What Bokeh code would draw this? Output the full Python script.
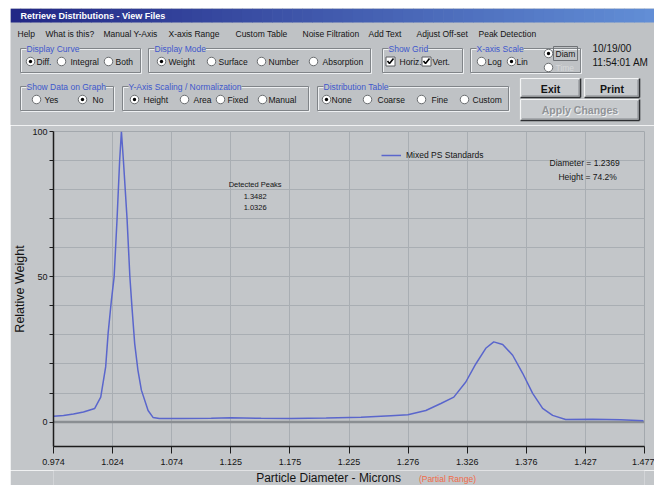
import numpy as np
from bokeh.plotting import figure
from bokeh.models import Range1d, FixedTicker, Span, Label
from bokeh.layouts import column
from bokeh.embed import file_html
from bokeh.resources import INLINE
from bokeh.core.properties import value

# ---------------- chart data ----------------
diameter_um = [0.9740, 0.9825, 0.9910, 0.9995, 1.0091, 1.0142, 1.0184, 1.0205, 1.0233, 1.0256,
               1.0281, 1.0303, 1.0318, 1.0335, 1.0366, 1.0390, 1.0407, 1.0431, 1.0458, 1.0488,
               1.0545, 1.0587, 1.0641, 1.0828, 1.1082, 1.1252, 1.1507, 1.1762, 1.2060, 1.2357,
               1.2612, 1.2756, 1.2909, 1.3037, 1.3147, 1.3249, 1.3334, 1.3419, 1.3487, 1.3563,
               1.3648, 1.3733, 1.3818, 1.3903, 1.3988, 1.4099, 1.4328, 1.4566, 1.4761]
relative_weight = [2.0, 2.3, 2.8, 3.5, 4.7, 8.6, 19.0, 30.6, 42.0, 50.0,
                   70.0, 90.0, 100.0, 90.0, 70.0, 50.0, 40.0, 27.0, 18.0, 11.0,
                   4.0, 1.6, 1.2, 1.2, 1.3, 1.5, 1.3, 1.2, 1.4, 1.7,
                   2.2, 2.5, 4.0, 6.4, 8.6, 13.8, 20.0, 25.4, 27.6, 26.7,
                   23.0, 16.8, 9.9, 4.7, 2.3, 0.9, 1.0, 0.8, 0.5]
series_name = "Mixed PS Standards"
x_tick_labels = ["0.974", "1.024", "1.074", "1.125", "1.175", "1.225",
                 "1.276", "1.326", "1.376", "1.427", "1.477"]
x_min, x_max = 0.974, 1.477
y_major_ticks = [0, 50, 100]
y_minor_ticks = [10, 20, 30, 40, 60, 70, 80, 90]
detected_peaks = ["1.3482", "1.0326"]
cursor_diameter = "1.2369"
cursor_height = "74.2%"
x_title = "Particle Diameter - Microns"
y_title = "Relative Weight"
range_note = "(Partial Range)"

# ---------------- UI texts ----------------
menu_items = ["Help", "What is this?", "Manual Y-Axis", "X-axis Range", "Custom Table",
              "Noise Filtration", "Add Text", "Adjust Off-set", "Peak Detection"]
menu_x = [17, 45, 103, 168, 235, 302, 368, 416, 478]

FONT = "Liberation Sans"
WIN = "#bfc2c5"
PLOT_BG = "#c3c6c9"
GRID = "#a9aeb3"
DARK = "#808488"
INK = "#141414"

# ================= top UI panel (page pixel coordinates) =================
ui = figure(width=644, height=117, x_range=Range1d(10, 654), y_range=Range1d(125, 8),
            x_axis_location=None, y_axis_location=None, toolbar_location=None,
            output_backend="svg", min_border=0)
ui.grid.visible = False
ui.outline_line_color = None
ui.background_fill_color = WIN
ui.border_fill_color = WIN

# title bar gradient
n = 64
xs = np.linspace(10, 654, n + 1)
c0 = np.array([34, 40, 134])
c1 = np.array([98, 142, 214])
cols = ["#%02x%02x%02x" % tuple((c0 + (c1 - c0) * t).astype(int)) for t in np.linspace(0, 1, n)]
ui.quad(left=xs[:-1], right=xs[1:] + 0.6, top=8, bottom=22, fill_color=cols, line_color=None)
ui.text(x=[20], y=[15.5], text=["Retrieve Distributions - View Files"], text_color="white",
        text_font=value(FONT), text_font_style="bold", text_font_size="9px",
        text_baseline="middle")

# menu
ui.text(x=menu_x, y=[33] * len(menu_x), text=menu_items, text_color=INK,
        text_font=value(FONT), text_font_size="8.5px", text_baseline="middle")

# group boxes
boxes = [(20, 140, 48, 72, "Display Curve"), (148, 370, 48, 72, "Display Mode"),
         (382, 462, 48, 72, "Show Grid"), (470, 580, 48, 72, "X-axis Scale"),
         (20, 113, 86, 110, "Show Data on Graph"), (122, 308, 86, 110, "Y-Axis Scaling / Normalization"),
         (317, 508, 86, 110, "Distribution Table")]
ui.quad(left=[b[0] + 1 for b in boxes], right=[b[1] + 1 for b in boxes],
        top=[b[2] + 1 for b in boxes], bottom=[b[3] + 1 for b in boxes],
        fill_color=None, line_color="#eef0f2", line_width=1)
ui.quad(left=[b[0] for b in boxes], right=[b[1] for b in boxes],
        top=[b[2] for b in boxes], bottom=[b[3] for b in boxes],
        fill_color=None, line_color=DARK, line_width=1)
for b in boxes:
    ui.add_layout(Label(x=b[0] + 6, y=b[2], text=b[4], text_font=FONT, text_font_size="8.5px",
                        text_color="#4058cc", text_baseline="middle",
                        background_fill_color=WIN))

# radio buttons
radios = [(30, 61, 1), (61, 61, 0), (108, 61, 0), (161, 61, 1), (211, 61, 0), (261, 61, 0),
          (313, 61, 0), (481, 61, 0), (511, 61, 1), (548, 53, 1), (548, 67, 0),
          (36, 99, 0), (82, 99, 1), (134, 99, 1), (184, 99, 0), (220, 99, 0), (262, 99, 0),
          (326, 99, 1), (367, 99, 0), (421, 99, 0), (464, 99, 0)]
ui.scatter([r[0] for r in radios], [r[1] for r in radios], size=8.5, marker="circle",
           fill_color="white", line_color="#6a6d70", line_width=1)
ui.scatter([r[0] for r in radios if r[2]], [r[1] for r in radios if r[2]], size=3.4,
           marker="circle", fill_color="black", line_color=None)
opt_text = [("Diff.", 36, 61), ("Integral", 70, 61), ("Both", 115, 61), ("Weight", 168, 61),
            ("Surface", 218, 61), ("Number", 268, 61), ("Absorption", 322, 61),
            ("Horiz.", 399, 61), ("Vert.", 432, 61), ("Log", 487, 61), ("Lin", 516, 61),
            ("Yes", 44, 99), ("No", 92, 99), ("Height", 143, 99), ("Area", 193, 99),
            ("Fixed", 227, 99), ("Manual", 268, 99), ("None", 331, 99), ("Coarse", 377, 99),
            ("Fine", 431, 99), ("Custom", 472, 99)]
ui.text(x=[t[1] for t in opt_text], y=[t[2] for t in opt_text], text=[t[0] for t in opt_text],
        text_color=INK, text_font=value(FONT), text_font_size="8.5px", text_baseline="middle")

# checkboxes
cbx = [390, 426]
ui.quad(left=[c - 4.5 for c in cbx], right=[c + 4.5 for c in cbx], top=56.5, bottom=65.5,
        fill_color="white", line_color="#5a5d60")
ui.multi_line(xs=[[c - 3, c - 1, c + 3] for c in cbx], ys=[[60.5, 63, 58] for c in cbx],
              line_color="black", line_width=1.6)

# Diam / Time
ui.quad(left=[553], right=[577], top=[46], bottom=[60], fill_color=None, line_color="#6f7276")
ui.text(x=[555, 555], y=[53, 67], text=["Diam", "Time"], text_color=[INK, "#d6d8da"],
        text_font=value(FONT), text_font_size="8.5px", text_baseline="middle")

# date / time
ui.text(x=[592, 592], y=[48, 62], text=["10/19/00", "11:54:01 AM"], text_color=INK,
        text_font=value(FONT), text_font_size="10px", text_baseline="middle")

# buttons
btns = [(520, 580, 78, 97, "Exit"), (584, 639, 78, 97, "Print"), (520, 639, 99, 120, "Apply Changes")]
ui.quad(left=[b[0] for b in btns], right=[b[1] for b in btns], top=[b[2] for b in btns],
        bottom=[b[3] for b in btns], fill_color="#c7cacd", line_color=None)
ui.segment(x0=[b[0] for b in btns] * 2, y0=[b[2] for b in btns] * 2,
           x1=[b[1] for b in btns] + [b[0] for b in btns], y1=[b[2] for b in btns] + [b[3] for b in btns],
           line_color="#f4f5f6", line_width=1.2)
ui.segment(x0=[b[0] for b in btns] + [b[1] for b in btns], y0=[b[3] for b in btns] + [b[2] for b in btns],
           x1=[b[1] for b in btns] * 2, y1=[b[3] for b in btns] * 2,
           line_color="#2e3033", line_width=1.6)
ui.segment(x0=[b[0] + 1.5 for b in btns] + [b[1] - 1.5 for b in btns],
           y0=[b[3] - 1.5 for b in btns] + [b[2] + 1.5 for b in btns],
           x1=[b[1] - 1.5 for b in btns] * 2, y1=[b[3] - 1.5 for b in btns] * 2,
           line_color="#85898d", line_width=1)
ui.text(x=[550, 611.5], y=[88, 88], text=["Exit", "Print"], text_color=INK,
        text_font=value(FONT), text_font_style="bold", text_font_size="10.5px",
        text_align="center", text_baseline="middle")
ui.text(x=[580.5], y=[110.5], text=["Apply Changes"], text_color="#f0f1f2",
        text_font=value(FONT), text_font_style="bold", text_font_size="10.5px",
        text_align="center", text_baseline="middle")
ui.text(x=[579.5], y=[109.5], text=["Apply Changes"], text_color="#909397",
        text_font=value(FONT), text_font_style="bold", text_font_size="10.5px",
        text_align="center", text_baseline="middle")

# ================= main chart =================
p = figure(width=644, height=345, x_range=Range1d(x_min, x_max), y_range=Range1d(-8.4, 100),
           toolbar_location=None, output_backend="svg",
           min_border_left=42, min_border_right=10, min_border_top=6, min_border_bottom=24)
p.background_fill_color = PLOT_BG
p.border_fill_color = PLOT_BG
p.outline_line_color = "#a3a8ad"

x_ticks = [x_min + i * (x_max - x_min) / (len(x_tick_labels) - 1) for i in range(len(x_tick_labels))]
p.xaxis.ticker = FixedTicker(ticks=x_ticks)
p.xaxis.major_label_overrides = {t: s for t, s in zip(x_ticks, x_tick_labels)}
p.yaxis.ticker = FixedTicker(ticks=y_major_ticks, minor_ticks=y_minor_ticks)
p.xgrid.ticker = FixedTicker(ticks=x_ticks)
p.ygrid.ticker = FixedTicker(ticks=y_major_ticks, minor_ticks=y_minor_ticks)

for ax in (p.xaxis, p.yaxis):
    ax.axis_line_color = "#1c1c1c"
    ax.axis_line_width = 1.5
    ax.major_tick_line_color = "#1c1c1c"
    ax.major_tick_in = 0
    ax.major_label_text_font = FONT
    ax.major_label_text_font_size = "9px"
    ax.major_label_text_color = INK
p.xaxis.major_tick_out = 7
p.xaxis.major_label_standoff = 5
p.xaxis.minor_tick_line_color = None
p.yaxis.major_tick_out = 4
p.yaxis.minor_tick_out = 4
p.yaxis.minor_tick_in = 0
p.yaxis.minor_tick_line_color = "#1c1c1c"
p.yaxis.major_label_standoff = 2
p.yaxis.axis_label = y_title
p.yaxis.axis_label_standoff = 2
p.yaxis.axis_label_text_font = FONT
p.yaxis.axis_label_text_font_size = "12.5px"
p.yaxis.axis_label_text_font_style = "normal"
p.yaxis.axis_label_text_color = INK

p.xgrid.grid_line_color = GRID
p.ygrid.grid_line_color = GRID
p.ygrid.minor_grid_line_color = GRID

p.add_layout(Span(location=0, dimension="width", line_color="#8a8e92", line_width=2.5, level="underlay"))

p.line(diameter_um, relative_weight, line_color="#5a66cc", line_width=1.5, legend_label=series_name)
lg = p.legend[0]
lg.location = (328, 284)
lg.background_fill_alpha = 0
lg.border_line_color = None
lg.padding = 0
lg.margin = 0
lg.spacing = 0
lg.glyph_width = 20
lg.glyph_height = 14
lg.label_height = 14
lg.label_standoff = 5
lg.label_text_font = FONT
lg.label_text_font_size = "8.5px"
lg.label_text_color = INK

# annotations inside the plot
p.text(x=[1.1456] * 3, y=[81.8, 77.6, 73.8], text=["Detected Peaks"] + detected_peaks,
       text_color=INK, text_font=value(FONT), text_font_size="7.5px",
       text_align="center", text_baseline="middle")
p.text(x=[1.4260, 1.4286], y=[89.0, 84.2],
       text=["Diameter = " + cursor_diameter, "Height = " + cursor_height],
       text_color=INK, text_font=value(FONT), text_font_size="8.5px",
       text_align="center", text_baseline="middle")

# ================= x-axis title strip (page pixel coordinates, same borders as chart) =================
xt = figure(width=644, height=15, x_range=Range1d(52, 644), y_range=Range1d(485, 470),
            x_axis_location=None, y_axis_location=None, toolbar_location=None,
            output_backend="svg", min_border_left=42, min_border_right=10,
            min_border_top=0, min_border_bottom=0)
xt.grid.visible = False
xt.outline_line_color = None
xt.background_fill_color = PLOT_BG
xt.border_fill_color = PLOT_BG
xt.text(x=[327.5], y=[477.5], text=[x_title], text_color=INK, text_font=value(FONT),
        text_font_size="12px", text_align="center", text_baseline="middle")
xt.text(x=[418], y=[478.5], text=[range_note], text_color="#f06a48", text_font=value(FONT),
        text_font_size="8.5px", text_align="left", text_baseline="middle")

layout = column(ui, column(p, xt, spacing=0), spacing=0, margin=(8, 0, 0, 10))
open("out.html", "w").write(file_html(layout, INLINE))
